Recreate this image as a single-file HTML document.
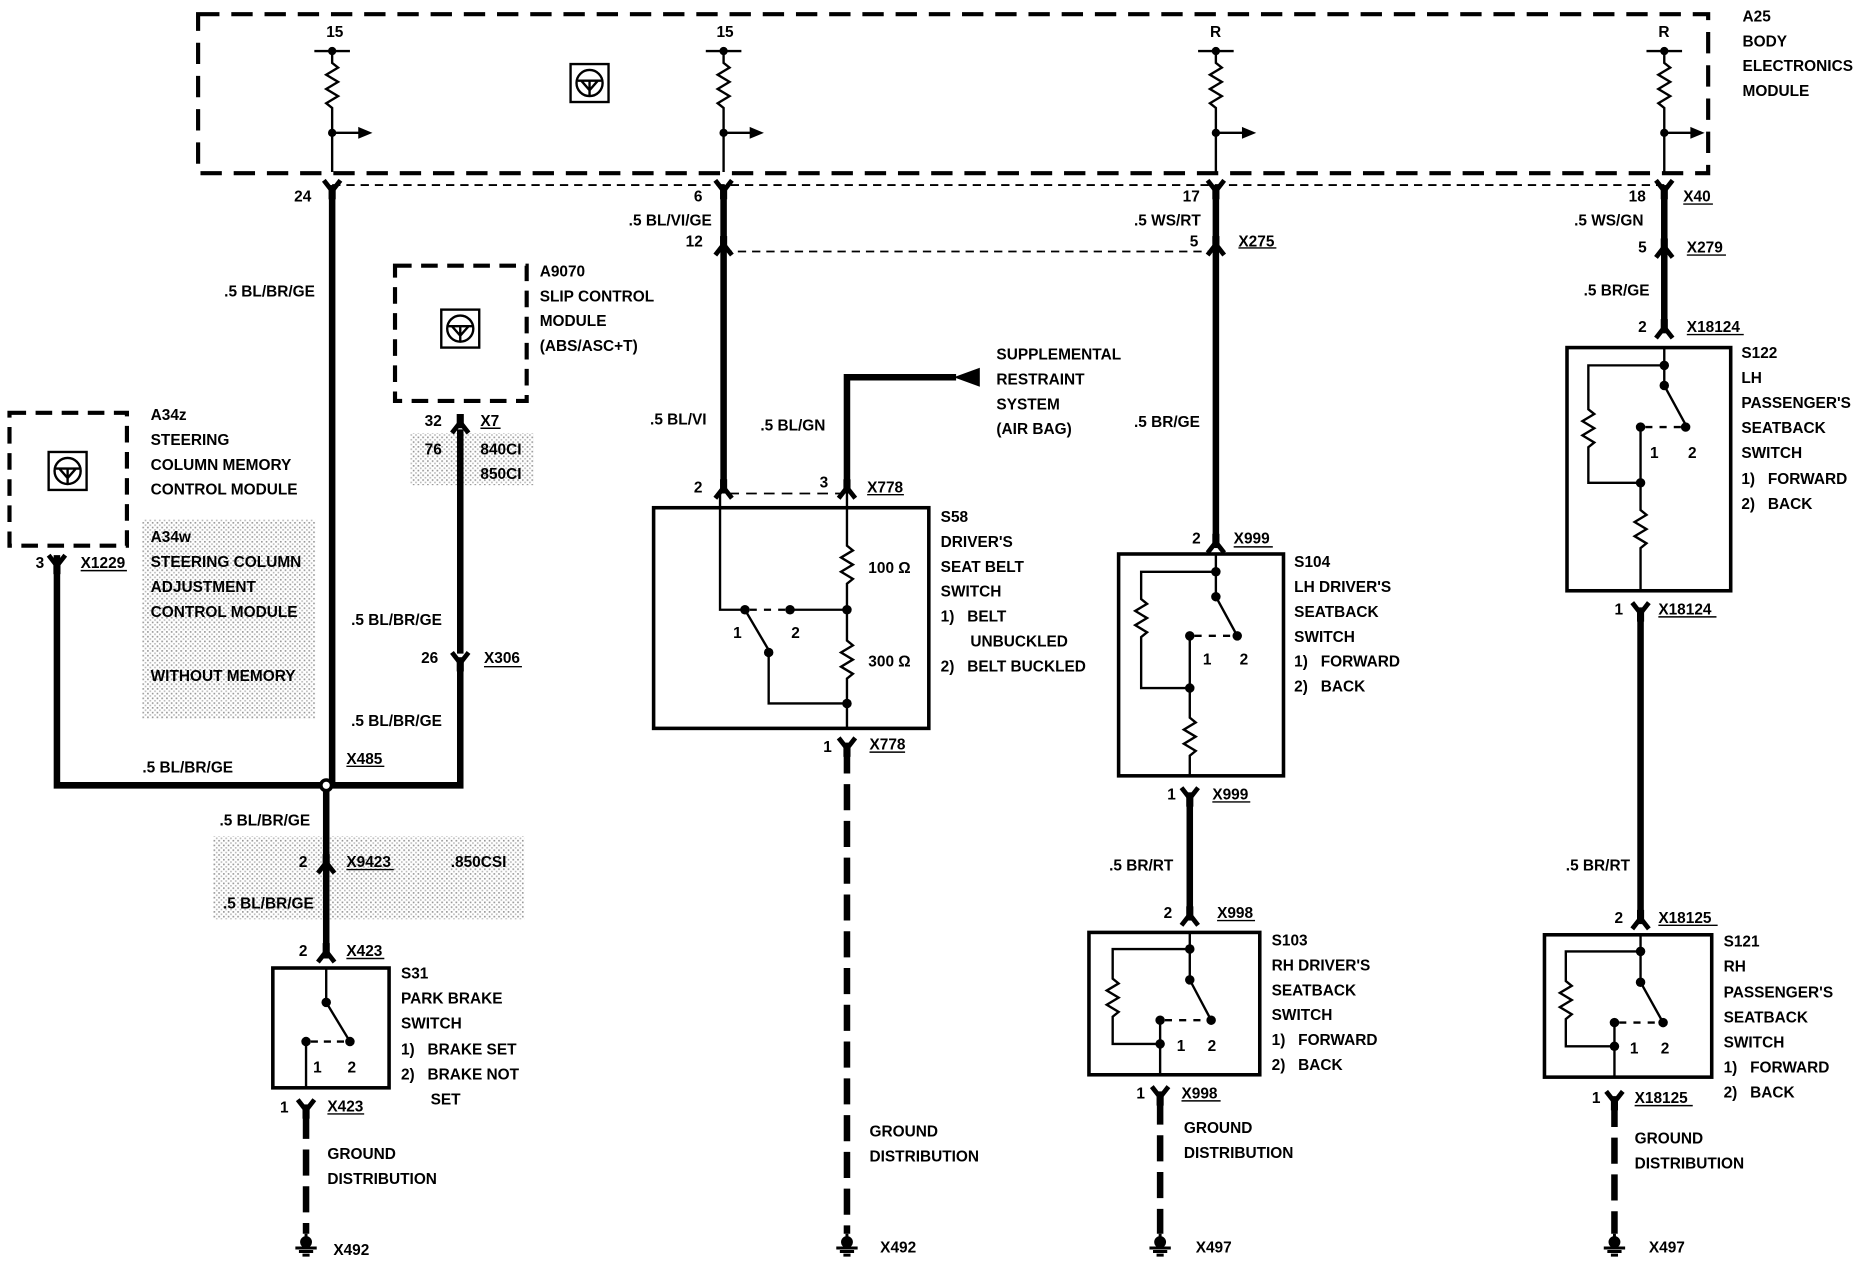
<!DOCTYPE html>
<html><head><meta charset="utf-8"><style>
html,body{margin:0;padding:0;background:#fff}
svg{display:block}
text{font-family:"Liberation Sans",sans-serif;font-size:13px;font-weight:bold;fill:#000}
</style></head><body>
<svg width="1860" height="1280" viewBox="0 0 1568 1079" preserveAspectRatio="none" xmlns="http://www.w3.org/2000/svg">
<defs>
<pattern id="st" width="4" height="4" patternUnits="userSpaceOnUse"><rect width="4" height="4" fill="#fff"/><rect width="1.4" height="1.4" fill="#999"/><rect x="2" y="2" width="1.4" height="1.4" fill="#bbb"/></pattern>
<g id="icon"><rect x="-16" y="-16" width="32" height="32" fill="#fff" stroke="#000" stroke-width="2"/><circle r="11" fill="none" stroke="#000" stroke-width="2"/><path d="M-10,-2 L10,-2 M0,-2 L0,11 M-7,-2 L0,6 L7,-2" fill="none" stroke="#000" stroke-width="2"/></g>
<g id="conU"><path d="M-7,-8 L0,1 L7,-8" fill="none" stroke="#000" stroke-width="4"/><path d="M0,-4 L0,8" stroke="#000" stroke-width="6"/></g>
<g id="conD"><path d="M-7,8 L0,-1 L7,8" fill="none" stroke="#000" stroke-width="4"/><path d="M0,-8 L0,4" stroke="#000" stroke-width="6"/></g>
<g id="gnd"><path d="M0,-10 L0,0 M-9,2 L9,2 M-6,5 L6,5 M-3,8 L3,8" stroke="#000" stroke-width="2.5"/><circle cy="-3" r="5"/></g>
<g id="fuse"><path d="M-15,0 L15,0" stroke="#000" stroke-width="2"/><circle r="3.5"/><path d="M0,0 L0,10 L5,14 L-5,20 L5,26 L-5,32 L5,38 L-5,44 L0,48 L0,102" fill="none" stroke="#000" stroke-width="2"/><circle cy="69" r="3.5"/><path d="M0,69 L24,69" stroke="#000" stroke-width="2"/><path d="M22,64 L34,69 L22,74 Z"/></g>
</defs>
<g fill="none" stroke="#000">
<rect x="167" y="12" width="1273" height="134" stroke-width="3.5" stroke-dasharray="18 10"/>
<path d="M280,156 L1403,156" stroke-width="1.5" stroke-dasharray="7 5"/>
<path d="M610,212 L1025,212" stroke-width="1.5" stroke-dasharray="7 5"/>
<rect x="333" y="224" width="111" height="114" stroke-width="3.5" stroke-dasharray="14 8"/>
<rect x="8" y="348" width="99" height="112" stroke-width="3.5" stroke-dasharray="14 8"/>
</g>
<rect x="120" y="438" width="146" height="168" fill="url(#st)"/>
<rect x="346" y="365" width="104" height="44" fill="url(#st)"/>
<rect x="180" y="705" width="262" height="70" fill="url(#st)"/>
<use href="#icon" x="497" y="70"/><use href="#icon" x="388" y="277"/><use href="#icon" x="57" y="397"/>
<use href="#fuse" x="280" y="43"/><use href="#fuse" x="610" y="43"/><use href="#fuse" x="1025" y="43"/><use href="#fuse" x="1403" y="43"/>
<g fill="none" stroke="#000" stroke-width="5.5">
<path d="M280,160 L280,662 M275,662 L275,808"/>
<path d="M48,468 L48,662 L388,662 L388,563"/>
<path d="M388,362 L388,551"/>
<path d="M610,160 L610,412 M714,412 L714,318 L806,318"/>
<path d="M1025,160 L1025,458"/>
<path d="M1003,668 L1003,772"/>
<path d="M1403,160 L1403,280"/>
<path d="M1383,514 L1383,775"/>
<path d="M258,938 L258,1040 M714,630 L714,1040 M978,926 L978,1040 M1361,928 L1361,1040" stroke-dasharray="22 9"/>
</g>
<path d="M806,310 L828,318 L806,326 Z" transform="translate(-2,0) rotate(180 817 318)"/>
<circle cx="275" cy="662" r="6" fill="#000"/><circle cx="275" cy="662" r="3" fill="#fff"/>
<use href="#conU" x="280" y="160"/><use href="#conU" x="610" y="160"/><use href="#conD" x="610" y="207"/><use href="#conU" x="1025" y="160"/><use href="#conD" x="1025" y="207"/><use href="#conU" x="1403" y="160"/><use href="#conD" x="1403" y="209"/><use href="#conD" x="1403" y="277"/>
<use href="#conU" x="48" y="476"/><use href="#conD" x="388" y="357"/><use href="#conU" x="388" y="558"/>
<use href="#conD" x="275" y="728"/><use href="#conD" x="275" y="803"/><use href="#conU" x="258" y="935"/>
<use href="#conD" x="610" y="412"/><use href="#conD" x="714" y="412"/><use href="#conU" x="714" y="630"/>
<use href="#conD" x="1025" y="458"/><use href="#conU" x="1003" y="672"/><use href="#conD" x="1003" y="772"/><use href="#conU" x="978" y="924"/>
<use href="#conU" x="1383" y="516"/><use href="#conD" x="1383" y="775"/><use href="#conU" x="1361" y="928"/>
<g stroke="#000" stroke-width="1.5" stroke-dasharray="9 6"><path d="M614,416 L710,416"/></g>
<use href="#gnd" x="258" y="1050"/><use href="#gnd" x="714" y="1050"/><use href="#gnd" x="978" y="1050"/><use href="#gnd" x="1361" y="1050"/>
<g fill="none" stroke="#000" stroke-width="2">
<rect x="230" y="816" width="98" height="101" stroke-width="3"/>
<path d="M275,816 L275,845 L295,878 M258,878 L258,917"/>
<path d="M262,878 L292,878" stroke-dasharray="6 5"/>
</g>
<circle cx="275" cy="845" r="4"/><circle cx="295" cy="878" r="4"/><circle cx="258" cy="878" r="4"/>
<g fill="none" stroke="#000" stroke-width="2">
<rect x="551" y="428" width="232" height="186" stroke-width="3"/>
<path d="M607,416 L607,514 L628,514 M666,514 L714,514 M714,416 L714,460 L719,464 L709,470 L719,476 L709,482 L719,488 L714,492 L714,540 L719,544 L709,550 L719,556 L709,562 L719,568 L714,572 L714,614"/>
<path d="M628,514 L648,548 L648,593 L714,593"/>
<path d="M632,514 L664,514" stroke-dasharray="6 6"/>
</g>
<circle cx="628" cy="514" r="4"/><circle cx="666" cy="514" r="4"/><circle cx="714" cy="514" r="4"/><circle cx="648" cy="550" r="4"/><circle cx="714" cy="593" r="4"/>
<g fill="none" stroke="#000" stroke-width="2">
<rect x="943" y="467" width="139" height="187" stroke-width="3"/>
<path d="M1025,467 L1025,503 L1043,536 M1025,482 L962,482 L962,505 L967,509 L957,515 L967,521 L957,527 L967,533 L962,537 L962,580 L1003,580 M1003,536 L1003,605 L1008,609 L998,615 L1008,621 L998,627 L1008,633 L1003,637 L1003,654"/>
<path d="M1007,536 L1040,536" stroke-dasharray="6 6"/>
<rect x="1321" y="293" width="138" height="205" stroke-width="3"/>
<path d="M1403,293 L1403,325 L1421,358 M1403,308 L1339,308 L1339,345 L1344,349 L1334,355 L1344,361 L1334,367 L1344,373 L1339,377 L1339,407 L1383,407 M1383,360 L1383,430 L1388,434 L1378,440 L1388,446 L1378,452 L1388,458 L1383,462 L1383,498"/>
<path d="M1387,360 L1418,360" stroke-dasharray="6 6"/>
<rect x="918" y="786" width="144" height="120" stroke-width="3"/>
<path d="M1003,786 L1003,800 L938,800 L938,825 L943,829 L933,835 L943,841 L933,847 L943,853 L938,857 L938,880 L978,880 M1003,800 L1003,826 L1021,860 M978,860 L978,906"/>
<path d="M982,860 L1018,860" stroke-dasharray="6 6"/>
<rect x="1302" y="788" width="141" height="120" stroke-width="3"/>
<path d="M1383,788 L1383,802 L1320,802 L1320,827 L1325,831 L1315,837 L1325,843 L1315,849 L1325,855 L1320,859 L1320,882 L1361,882 M1383,802 L1383,828 L1402,862 M1361,862 L1361,908"/>
<path d="M1365,862 L1399,862" stroke-dasharray="6 6"/>
</g>
<g>
<circle cx="1025" cy="482" r="4"/><circle cx="1025" cy="503" r="4"/><circle cx="1043" cy="536" r="4"/><circle cx="1003" cy="536" r="4"/><circle cx="1003" cy="580" r="4"/>
<circle cx="1403" cy="308" r="4"/><circle cx="1403" cy="325" r="4"/><circle cx="1421" cy="360" r="4"/><circle cx="1383" cy="360" r="4"/><circle cx="1383" cy="407" r="4"/>
<circle cx="1003" cy="800" r="4"/><circle cx="1003" cy="826" r="4"/><circle cx="1021" cy="860" r="4"/><circle cx="978" cy="860" r="4"/><circle cx="978" cy="880" r="4"/>
<circle cx="1383" cy="802" r="4"/><circle cx="1383" cy="828" r="4"/><circle cx="1402" cy="862" r="4"/><circle cx="1361" cy="862" r="4"/><circle cx="1361" cy="882" r="4"/>
</g>
<g stroke="#000" stroke-width="1.2">
<path d="M1419,172 L1444,172 M1044,209 L1076,209 M1422,215 L1455,215 M1422,282 L1470,282 M405,361 L422,361 M68,481 L107,481 M408,562 L440,562 M292,646 L324,646 M292,733 L332,733 M292,808 L324,808 M276,939 L307,939 M731,417 L762,417 M733,634 L763,634 M1040,461 L1073,461 M1022,676 L1054,676 M1026,776 L1058,776 M996,928 L1029,928 M1398,520 L1447,520 M1398,780 L1448,780 M1378,932 L1427,932"/>
</g>
<text x="275" y="31">15</text><text x="604" y="31">15</text><text x="1020" y="31">R</text><text x="1398" y="31">R</text>
<text x="1469" y="18">A25</text><text x="1469" y="39">BODY</text><text x="1469" y="60">ELECTRONICS</text><text x="1469" y="81">MODULE</text>
<text x="248" y="170">24</text><text x="189" y="250">.5 BL/BR/GE</text>
<text x="585" y="170">6</text><text x="530" y="190">.5 BL/VI/GE</text><text x="578" y="208">12</text>
<text x="997" y="170">17</text><text x="956" y="190">.5 WS/RT</text><text x="1003" y="208">5</text><text x="1044" y="208">X275</text>
<text x="1373" y="170">18</text><text x="1419" y="170">X40</text><text x="1327" y="190">.5 WS/GN</text><text x="1381" y="213">5</text><text x="1422" y="213">X279</text>
<text x="1335" y="249">.5 BR/GE</text><text x="1381" y="280">2</text><text x="1422" y="280">X18124</text>
<text x="455" y="233">A9070</text><text x="455" y="254">SLIP CONTROL</text><text x="455" y="275">MODULE</text><text x="455" y="296">(ABS/ASC+T)</text>
<text x="127" y="354">A34z</text><text x="127" y="375">STEERING</text><text x="127" y="396">COLUMN MEMORY</text><text x="127" y="417">CONTROL MODULE</text>
<text x="127" y="457">A34w</text><text x="127" y="478">STEERING COLUMN</text><text x="127" y="499">ADJUSTMENT</text><text x="127" y="520">CONTROL MODULE</text><text x="127" y="574">WITHOUT MEMORY</text>
<text x="30" y="479">3</text><text x="68" y="479">X1229</text>
<text x="358" y="359">32</text><text x="405" y="359">X7</text><text x="358" y="383">76</text><text x="405" y="383">840CI</text><text x="405" y="404">850CI</text>
<text x="296" y="527">.5 BL/BR/GE</text><text x="355" y="559">26</text><text x="408" y="559">X306</text><text x="296" y="612">.5 BL/BR/GE</text>
<text x="120" y="651">.5 BL/BR/GE</text><text x="292" y="644">X485</text><text x="185" y="696">.5 BL/BR/GE</text>
<text x="252" y="731">2</text><text x="292" y="731">X9423</text><text x="380" y="731">.850CSI</text><text x="188" y="766">.5 BL/BR/GE</text>
<text x="252" y="806">2</text><text x="292" y="806">X423</text>
<text x="338" y="825">S31</text><text x="338" y="846">PARK BRAKE</text><text x="338" y="867">SWITCH</text><text x="338" y="889">1)&#160;&#160;&#160;BRAKE SET</text><text x="338" y="910">2)&#160;&#160;&#160;BRAKE NOT</text><text x="363" y="931">SET</text>
<text x="264" y="904">1</text><text x="293" y="904">2</text>
<text x="236" y="938">1</text><text x="276" y="937">X423</text>
<text x="276" y="977">GROUND</text><text x="276" y="998">DISTRIBUTION</text><text x="281" y="1058">X492</text>
<text x="548" y="358">.5 BL/VI</text><text x="641" y="363">.5 BL/GN</text>
<text x="840" y="303">SUPPLEMENTAL</text><text x="840" y="324">RESTRAINT</text><text x="840" y="345">SYSTEM</text><text x="840" y="366">(AIR BAG)</text>
<text x="585" y="415">2</text><text x="691" y="411">3</text><text x="731" y="415">X778</text>
<text x="793" y="440">S58</text><text x="793" y="461">DRIVER'S</text><text x="793" y="482">SEAT BELT</text><text x="793" y="503">SWITCH</text><text x="793" y="524">1)&#160;&#160;&#160;BELT</text><text x="818" y="545">UNBUCKLED</text><text x="793" y="566">2)&#160;&#160;&#160;BELT BUCKLED</text>
<text x="732" y="483">100 Ω</text><text x="732" y="562">300 Ω</text><text x="618" y="538">1</text><text x="667" y="538">2</text>
<text x="694" y="634">1</text><text x="733" y="632">X778</text>
<text x="733" y="958">GROUND</text><text x="733" y="979">DISTRIBUTION</text><text x="742" y="1056">X492</text>
<text x="956" y="360">.5 BR/GE</text><text x="1005" y="458">2</text><text x="1040" y="458">X999</text>
<text x="1091" y="478">S104</text><text x="1091" y="499">LH DRIVER'S</text><text x="1091" y="520">SEATBACK</text><text x="1091" y="541">SWITCH</text><text x="1091" y="562">1)&#160;&#160;&#160;FORWARD</text><text x="1091" y="583">2)&#160;&#160;&#160;BACK</text>
<text x="1014" y="560">1</text><text x="1045" y="560">2</text>
<text x="984" y="674">1</text><text x="1022" y="674">X999</text><text x="935" y="734">.5 BR/RT</text>
<text x="981" y="774">2</text><text x="1026" y="774">X998</text>
<text x="1072" y="797">S103</text><text x="1072" y="818">RH DRIVER'S</text><text x="1072" y="839">SEATBACK</text><text x="1072" y="860">SWITCH</text><text x="1072" y="881">1)&#160;&#160;&#160;FORWARD</text><text x="1072" y="902">2)&#160;&#160;&#160;BACK</text>
<text x="992" y="886">1</text><text x="1018" y="886">2</text>
<text x="958" y="926">1</text><text x="996" y="926">X998</text>
<text x="998" y="955">GROUND</text><text x="998" y="976">DISTRIBUTION</text><text x="1008" y="1056">X497</text>
<text x="1468" y="302">S122</text><text x="1468" y="323">LH</text><text x="1468" y="344">PASSENGER'S</text><text x="1468" y="365">SEATBACK</text><text x="1468" y="386">SWITCH</text><text x="1468" y="408">1)&#160;&#160;&#160;FORWARD</text><text x="1468" y="429">2)&#160;&#160;&#160;BACK</text>
<text x="1391" y="386">1</text><text x="1423" y="386">2</text>
<text x="1361" y="518">1</text><text x="1398" y="518">X18124</text><text x="1320" y="734">.5 BR/RT</text>
<text x="1361" y="778">2</text><text x="1398" y="778">X18125</text>
<text x="1453" y="798">S121</text><text x="1453" y="819">RH</text><text x="1453" y="841">PASSENGER'S</text><text x="1453" y="862">SEATBACK</text><text x="1453" y="883">SWITCH</text><text x="1453" y="904">1)&#160;&#160;&#160;FORWARD</text><text x="1453" y="925">2)&#160;&#160;&#160;BACK</text>
<text x="1374" y="888">1</text><text x="1400" y="888">2</text>
<text x="1342" y="930">1</text><text x="1378" y="930">X18125</text>
<text x="1378" y="964">GROUND</text><text x="1378" y="985">DISTRIBUTION</text><text x="1390" y="1056">X497</text>
</svg>
</body></html>
